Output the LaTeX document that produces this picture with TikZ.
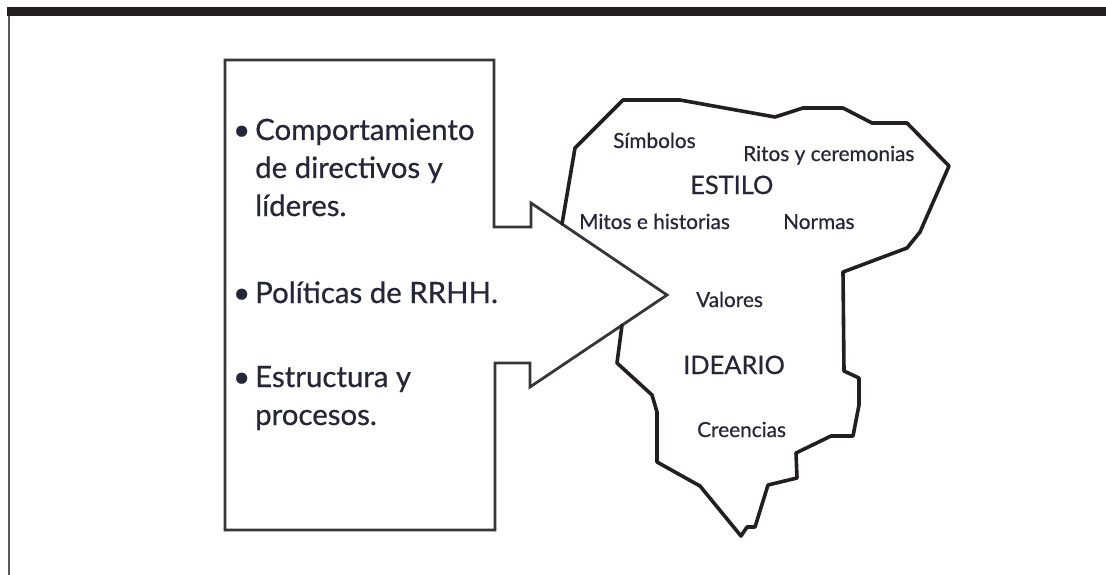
\documentclass[tikz,border=0pt]{standalone}
\usepackage{fontspec}
\setmainfont{Lato}[UprightFeatures={FakeBold=0.6}]
\definecolor{ink}{HTML}{231F20}
\definecolor{txt}{HTML}{26263A}
\begin{document}
\begin{tikzpicture}[x=1pt,y=-1pt,
  lbl/.style={inner sep=0pt,anchor=base west,text=txt},
  big/.style={lbl,font=\fontsize{29.4}{34}\selectfont},
  small/.style={lbl,font=\fontsize{20.8}{24}\selectfont},
  head/.style={lbl,font=\fontsize{25.4}{30}\selectfont},
  arrowshape/.style={draw=ink!90,line width=2.8pt,line join=miter},
  blob/.style={draw=ink,line width=3.6pt,line join=round,line cap=round}]
\useasboundingbox (0,0) rectangle (1106,575);
% frame
\fill[ink] (7,7) rectangle (1106,16);
\draw[ink!75,line width=1.6pt] (9,16) -- (9,575);
% arrow box
\draw[arrowshape] (225,60) -- (494,60) -- (494,227) -- (531,227) -- (531,203)
  -- (667,295) -- (530,387) -- (530,363) -- (495,363) -- (495,530) -- (225,530) -- cycle;
% blob
\draw[blob] (562,224) -- (575,148) -- (623,100) -- (680,100) -- (775,117) -- (803,108)
  -- (843,108) -- (872,123) -- (907,123) -- (949,166) -- (920,232) -- (907,248)
  -- (843,272) -- (844,371) -- (859,378) -- (859,405) -- (853,436) -- (831,436)
  -- (796,453) -- (797,478) -- (768,485) -- (755,527) -- (747,527) -- (741,536)
  -- (700,486) -- (657,462) -- (657,412) -- (652,395) -- (617,363) -- (622,325);
% box text
\node[big] (l1) at (255,140) {\llap{\textbullet\hspace{5pt}}Comportamiento};
\node[big] (l2) at (255,178) {de directivos y};
\node[big] (l3) at (255,216) {líderes.};
\node[big] (l4) at (255,303) {\llap{\textbullet\hspace{5pt}}Políticas de RRHH.};
\node[big] (l5) at (255,387) {\llap{\textbullet\hspace{5pt}}Estructura y};
\node[big] (l6) at (255,425) {procesos.};
% blob text
\node[small] (simb) at (613,148) {Símbolos};
\node[small] (ritos) at (743,161) {Ritos y ceremonias};
\node[head] (estilo) at (690,194) {ESTILO};
\node[small] (mitos) at (579,229) {Mitos e historias};
\node[small] (normas) at (783,229) {Normas};
\node[small] (valores) at (696,307) {Valores};
\node[head] (ideario) at (683,374) {IDEARIO};
\node[small] (creen) at (697,437) {Creencias};
\end{tikzpicture}
\end{document}
